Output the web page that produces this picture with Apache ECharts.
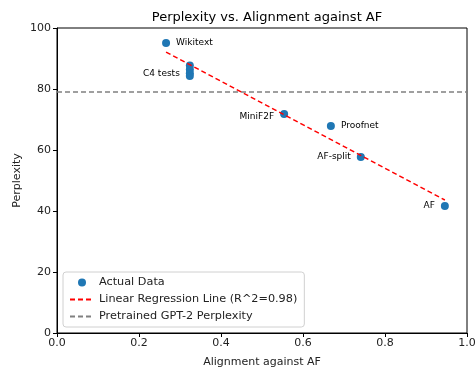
<!DOCTYPE html>
<html>
<head>
<meta charset="utf-8">
<script src="https://cdn.jsdelivr.net/npm/echarts@6/dist/echarts.min.js"></script>
<style>
  html, body { margin: 0; padding: 0; background: #fff; overflow: hidden; }
  #chart { width: 475px; height: 371px; }
</style>
</head>
<body>
<div id="chart"></div>
<script>
// data
var names = ['Wikitext', '', '', 'C4 tests', '', 'MiniF2F', 'Proofnet', 'AF-split', 'AF'];
var alignment = [0.266, 0.324, 0.324, 0.324, 0.324, 0.554, 0.668, 0.741, 0.946];
var perplexity = [95.1, 87.7, 86.4, 85.2, 84.3, 71.8, 67.9, 57.7, 41.6];
var regX = [0.266, 0.946];
var regY = [92.1, 43.6];
var gpt2Perplexity = 79.0;

// label side for each annotated point
var labelSide = { 'Wikitext': 'right', 'C4 tests': 'left', 'MiniF2F': 'left', 'Proofnet': 'right', 'AF-split': 'left', 'AF': 'left' };

var font = 'DejaVu Sans';
var chart = echarts.init(document.getElementById('chart'));

var points = alignment.map(function (x, i) {
  var item = { value: [x, perplexity[i]] };
  if (names[i]) {
    item.label = {
      show: true,
      formatter: names[i],
      position: labelSide[names[i]],
      distance: 6,
      offset: names[i] === 'MiniF2F' ? [0, 3] : (names[i] === 'C4 tests' ? [0, 1] : [0, 0])
    };
  }
  return item;
});

var option = {
  animation: false,
  textStyle: { fontFamily: font },
  title: {
    text: 'Perplexity vs. Alignment against AF',
    left: 262, top: 6, textAlign: 'center',
    textStyle: { fontFamily: font, fontSize: 13, fontWeight: 'normal', color: '#000' }
  },
  grid: {
    left: 57, right: 8, top: 28, bottom: 38,
    outerBoundsMode: 'none', containLabel: false,
    show: true, borderColor: '#000', borderWidth: 1, backgroundColor: 'transparent'
  },
  legend: {
    orient: 'vertical',
    left: 63, top: 272,
    itemWidth: 24, itemHeight: 8, itemGap: 6,
    padding: [5, 7, 5, 6],
    borderColor: '#d0d0d0', borderWidth: 1, borderRadius: 3,
    backgroundColor: 'rgba(255,255,255,0.8)',
    textStyle: { fontFamily: font, fontSize: 11.25, color: '#222' },
    data: [
      { name: 'Actual Data', icon: 'circle' },
      { name: 'Linear Regression Line (R^2=0.98)', itemStyle: { opacity: 0 } },
      { name: 'Pretrained GPT-2 Perplexity', itemStyle: { opacity: 0 } }
    ]
  },
  xAxis: {
    type: 'value', min: 0, max: 1, interval: 0.2,
    name: 'Alignment against AF', nameLocation: 'middle', nameGap: 24, nameMoveOverlap: false,
    nameTextStyle: { fontFamily: font, fontSize: 11, color: '#222' },
    axisLine: { show: true, onZero: false, lineStyle: { color: '#000' } },
    axisTick: { show: true, length: 4, lineStyle: { color: '#000' } },
    axisLabel: { fontFamily: font, fontSize: 11, color: '#222', margin: 5,
      formatter: function (v) { return v.toFixed(1); } },
    splitLine: { show: false }
  },
  yAxis: {
    type: 'value', min: 0, max: 100, interval: 20,
    name: 'Perplexity', nameLocation: 'middle', nameGap: 34, nameRotate: 90, nameMoveOverlap: false,
    nameTextStyle: { fontFamily: font, fontSize: 11, color: '#222' },
    axisLine: { show: true, lineStyle: { color: '#000' } },
    axisTick: { show: true, length: 4, lineStyle: { color: '#000' } },
    axisLabel: { fontFamily: font, fontSize: 11, color: '#222', margin: 6 },
    splitLine: { show: false }
  },
  series: [
    {
      name: 'Actual Data',
      type: 'scatter',
      symbolSize: 8,
      itemStyle: { color: '#1f77b4', opacity: 1 },
      label: { fontFamily: font, fontSize: 9, color: '#000' },
      data: points,
      z: 3
    },
    {
      name: 'Linear Regression Line (R^2=0.98)',
      type: 'line',
      symbol: 'none',
      lineStyle: { color: '#ff0000', width: 1.5, type: [5, 3] },
      itemStyle: { color: '#ff0000' },
      data: regX.map(function (x, i) { return [x, regY[i]]; }),
      z: 4
    },
    {
      name: 'Pretrained GPT-2 Perplexity',
      type: 'line',
      symbol: 'none',
      lineStyle: { color: '#808080', width: 1.5, type: [5, 3] },
      itemStyle: { color: '#808080' },
      data: [[0, gpt2Perplexity], [1, gpt2Perplexity]],
      z: 2
    }
  ]
};

chart.setOption(option);
</script>
</body>
</html>
